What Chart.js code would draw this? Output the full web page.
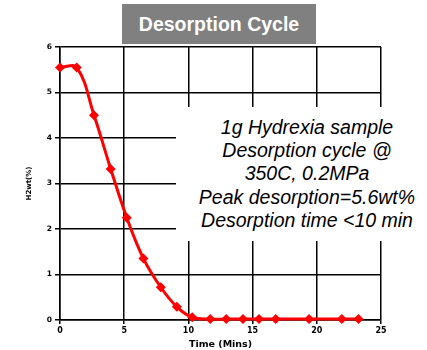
<!doctype html>
<html><head><meta charset="utf-8">
<title>Desorption Cycle</title>
<script src="https://cdn.jsdelivr.net/npm/chart.js"></script>
<style>
  html, body { margin: 0; padding: 0; background: #fff; }
  .wrap { position: relative; width: 427px; height: 350px; overflow: hidden; font-family: "Liberation Sans", Arial, sans-serif; }
  .title-box { position: absolute; left: 122px; top: 4px; width: 194px; height: 40px; background: #808080; color: #fff;
    font-weight: bold; font-size: 19.5px; line-height: 40px; text-align: center; }
  .note { position: absolute; left: 176px; top: 107px; width: 262px; height: 134px; background: #fff; color: #000;
    font-style: italic; font-size: 19.5px; line-height: 23.3px; text-align: center; display: flex; flex-direction: column; justify-content: center; }
</style>
</head><body>
<div class="wrap">
  <canvas id="c" width="427" height="350"></canvas>
  <div class="title-box">Desorption Cycle</div>
  <div class="note">
    <div>1g Hydrexia sample</div>
    <div>Desorption cycle @</div>
    <div>350C, 0.2MPa</div>
    <div>Peak desorption=5.6wt%</div>
    <div>Desorption time &lt;10 min</div>
  </div>
</div>
<script>
// time in minutes, H2 wt%
const timeMins = [0, 1.3, 2.65, 3.95, 5.2, 6.5, 7.85, 9.1, 10.3, 11.7, 12.95, 14.25, 15.5, 16.8, 19.4, 21.95, 23.25];
const h2wt = [5.55, 5.55, 4.5, 3.32, 2.25, 1.35, 0.72, 0.29, 0.06, 0.02, 0.02, 0.02, 0.02, 0.02, 0.02, 0.02, 0.02];
const xTicks = [0, 5, 10, 15, 20, 25];
const yTicks = [0, 1, 2, 3, 4, 5, 6];

const points = timeMins.map((t, i) => ({ x: t, y: h2wt[i] }));
const boldFont = size => ({ family: 'DejaVu Sans', size: size, weight: 'bold' });

new Chart(document.getElementById('c'), {
  type: 'line',
  data: {
    datasets: [{
      data: points,
      borderColor: '#ff0000',
      backgroundColor: '#ff0000',
      borderWidth: 3,
      tension: 0.4,
      pointStyle: 'rectRot',
      pointRadius: 5,
      pointBorderWidth: 0,
      clip: false
    }]
  },
  options: {
    responsive: false,
    animation: false,
    layout: { padding: { top: 47, right: 46, left: 0, bottom: 0 } },
    plugins: { legend: { display: false }, tooltip: { enabled: false } },
    scales: {
      x: {
        type: 'linear', min: 0, max: 25,
        afterBuildTicks: s => { s.ticks = xTicks.map(v => ({ value: v })); },
        afterFit: s => { s.height = 30; },
        grid: { color: '#000', lineWidth: 1.5, tickLength: 4 },
        border: { color: '#000', width: 1.5 },
        ticks: { color: '#000', padding: 2, maxRotation: 0, font: boldFont(8) },
        title: { display: true, text: 'Time (Mins)', color: '#000', padding: 0, font: boldFont(9.5) }
      },
      y: {
        min: 0, max: 6,
        afterBuildTicks: s => { s.ticks = yTicks.map(v => ({ value: v })); },
        afterFit: s => { s.width = 60; },
        grid: { color: '#000', lineWidth: 1.5, tickLength: 5 },
        border: { color: '#000', width: 1.5 },
        ticks: { color: '#000', padding: 3, font: boldFont(7.5) },
        title: { display: true, text: 'H2wt(%)', color: '#000', padding: { top: 25, bottom: 0 }, font: boldFont(7) }
      }
    }
  }
});
</script>
</body></html>
